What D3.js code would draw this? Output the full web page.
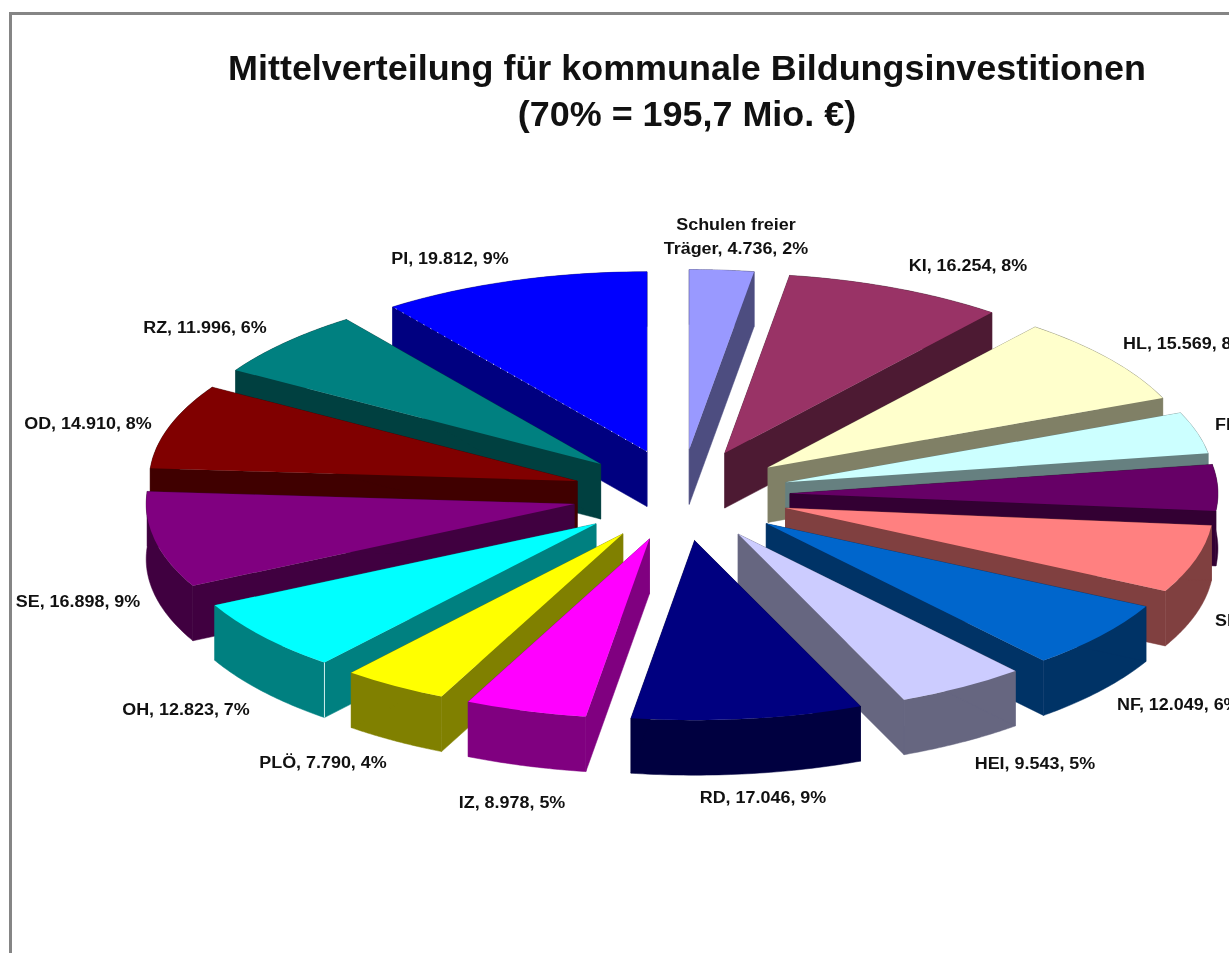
<!DOCTYPE html>
<html>
<head>
<meta charset="utf-8">
<script src="https://d3js.org/d3.v7.min.js"></script>
<style>
    html, body { margin: 0; padding: 0; background: #fff; overflow: hidden; }
    svg { display: block; filter: blur(0.45px); }
    text { font-family: "Liberation Sans", Arial, sans-serif; font-weight: bold; fill: #111; }
</style>
</head>
<body>
<svg id="drawing_region"></svg>
<script>
// clockwise from 12 o'clock; FL, NMS and SL are cut off in the picture, so estimated
const categories = ['Schulen freier Träger', 'KI', 'HL', 'FL', 'NMS', 'SL', 'NF', 'HEI', 'RD', 'IZ', 'PLÖ', 'OH', 'SE', 'OD', 'RZ', 'PI'];
const amounts = [4736, 16254, 15569, 7300, 8100, 11900, 12049, 9543, 17046, 8978, 7790, 12823, 16898, 14910, 11996, 19812];
const percents = [2, 8, 8, 4, 4, 6, 6, 5, 9, 5, 4, 7, 9, 8, 6, 9];
const colors = ['#9999ff', '#993366', '#ffffcc', '#ccffff', '#660066', '#ff8080', '#0066cc', '#ccccff',
    '#000080', '#ff00ff', '#ffff00', '#00ffff', '#800080', '#800000', '#008080', '#0000ff'];

const titleLines = ['Mittelverteilung für kommunale Bildungsinvestitionen', '(70% = 195,7 Mio. €)'];

// where each label sits, by hand like in the original chart
const labelPlaces = {
    'Schulen freier Träger': { x: 736, y: 254, anchor: 'middle' },
    'KI': { x: 968, y: 271, anchor: 'middle' },
    'HL': { x: 1123, y: 349, anchor: 'start' },
    'FL': { x: 1215, y: 430, anchor: 'start' },
    'SL': { x: 1215, y: 626, anchor: 'start' },
    'NF': { x: 1117, y: 710, anchor: 'start' },
    'HEI': { x: 1035, y: 769, anchor: 'middle' },
    'RD': { x: 763, y: 803, anchor: 'middle' },
    'IZ': { x: 512, y: 808, anchor: 'middle' },
    'PLÖ': { x: 323, y: 768, anchor: 'middle' },
    'OH': { x: 186, y: 715, anchor: 'middle' },
    'SE': { x: 78, y: 607, anchor: 'middle' },
    'OD': { x: 88, y: 429, anchor: 'middle' },
    'RZ': { x: 205, y: 333, anchor: 'middle' },
    'PI': { x: 450, y: 264, anchor: 'middle' }
};

const config = {
    width: 1229,
    height: 953,
    cx: 681,
    cy: 495,
    radius: 428,
    tilt: 0.42,
    explode: 109,
    depth: 55,
    labelStretch: 1.12
};

const svg = d3.select('#drawing_region')
    .attr('width', config.width)
    .attr('height', config.height);

// frame of the chart area, runs off the right and bottom
svg.append('path')
    .attr('d', `M10.5,${config.height} V13.5 H${config.width}`)
    .attr('fill', 'none')
    .attr('stroke', '#858585')
    .attr('stroke-width', 3);

const title = svg.append('g').attr('text-anchor', 'middle').style('font-size', '35px');
titleLines.forEach((line, i) => {
    title.append('text')
        .attr('x', 687)
        .attr('y', 80 + i * 46)
        .text(line)
        .each(function () {
            d3.select(this)
                .attr('lengthAdjust', 'spacingAndGlyphs')
                .attr('textLength', this.getComputedTextLength() * 1.026);
        });
});

const pie = d3.pie().sort(null).value(d => d.amount);
const slices = pie(categories.map((c, i) => ({
    name: c,
    amount: amounts[i],
    percent: percents[i],
    color: colors[i]
})));

const arc = d3.arc().innerRadius(0).outerRadius(config.radius);
const line = d3.line();

// plan coordinates of the pie to the tilted picture
const rim = (a) => [config.radius * Math.sin(a), -config.radius * config.tilt * Math.cos(a)];
const offset = (d) => {
    const mid = (d.startAngle + d.endAngle) / 2;
    return [
        config.cx + config.explode * Math.sin(mid),
        config.cy - config.explode * config.tilt * Math.cos(mid)
    ];
};
const sideColor = (c) => {
    const rgb = d3.rgb(c);
    return d3.rgb(rgb.r / 2, rgb.g / 2, rgb.b / 2).formatHex();
};

// back slices first, front ones cover their walls
const ordered = slices.slice().sort((a, b) =>
    d3.descending(Math.cos((a.startAngle + a.endAngle) / 2), Math.cos((b.startAngle + b.endAngle) / 2)));

const groups = svg.selectAll('g.slice')
    .data(ordered)
    .enter()
    .append('g')
    .attr('class', 'slice')
    .attr('transform', d => `translate(${offset(d)})`);

// walls: both cut faces and the outer rim, all in one dark shade
groups.each(function (d) {
    const g = d3.select(this);
    const steps = d3.range(0, 41).map(i => d.startAngle + (d.endAngle - d.startAngle) * i / 40);
    const top = steps.map(rim);
    const bottom = top.map(p => [p[0], p[1] + config.depth]).reverse();
    const dark = sideColor(d.data.color);
    const walls = [
        top.concat(bottom),
        [[0, 0], top[0], [top[0][0], top[0][1] + config.depth], [0, config.depth]],
        [[0, 0], top[40], [top[40][0], top[40][1] + config.depth], [0, config.depth]]
    ];
    g.selectAll('path.wall')
        .data(walls)
        .enter()
        .append('path')
        .attr('class', 'wall')
        .attr('d', w => line(w) + 'Z')
        .attr('fill', dark)
        .attr('stroke', dark)
        .attr('stroke-width', 0.5);
});

groups.append('path')
    .attr('class', 'face')
    .attr('transform', `scale(1, ${config.tilt})`)
    .attr('d', d => arc(d))
    .attr('fill', d => d.data.color);

// the light seams that show in the original
groups.filter(d => d.data.name === 'OH')
    .append('line')
    .attr('x1', d => rim(d.startAngle)[0])
    .attr('x2', d => rim(d.startAngle)[0])
    .attr('y1', d => rim(d.startAngle)[1])
    .attr('y2', d => rim(d.startAngle)[1] + config.depth)
    .attr('stroke', '#cfeeee')
    .attr('stroke-width', 1);

groups.filter(d => d.data.name === 'PI')
    .append('line')
    .attr('x1', 0)
    .attr('y1', 0)
    .attr('x2', d => rim(d.startAngle)[0])
    .attr('y2', d => rim(d.startAngle)[1])
    .attr('stroke', '#ffffff')
    .attr('stroke-width', 1)
    .attr('stroke-dasharray', '1 7');

// labels, the original picture is stretched sideways so the text is too
const fmt = d3.formatLocale({ decimal: ',', thousands: '.', grouping: [3], currency: ['', '€'] }).format(',d');
const labels = svg.append('g').style('font-size', '16px');

slices.filter(d => labelPlaces[d.data.name]).forEach(d => {
    const place = labelPlaces[d.data.name];
    const text = `${d.data.name}, ${fmt(d.data.amount)}, ${d.data.percent}%`;
    const lines = d.data.name === 'Schulen freier Träger'
        ? ['Schulen freier', text.replace('Schulen freier ', '')]
        : [text];
    lines.forEach((t, i) => {
        labels.append('text')
            .attr('x', place.x)
            .attr('y', place.y - (lines.length - 1 - i) * 24)
            .attr('text-anchor', place.anchor)
            .text(t)
            .each(function () {
                d3.select(this)
                    .attr('lengthAdjust', 'spacingAndGlyphs')
                    .attr('textLength', this.getComputedTextLength() * config.labelStretch);
            });
    });
});
</script>
</body>
</html>
